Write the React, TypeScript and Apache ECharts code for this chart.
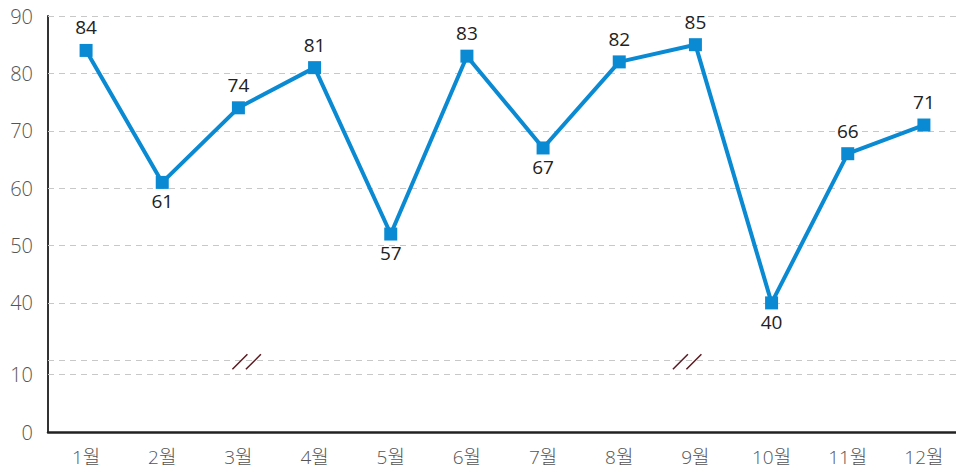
import React, { useEffect, useRef } from "react";
import * as echarts from "echarts";

const months = ["1월", "2월", "3월", "4월", "5월", "6월", "7월", "8월", "9월", "10월", "11월", "12월"];
// plotted positions
const values = [84, 61, 74, 81, 52, 83, 67, 82, 85, 40, 66, 71];
// value labels as printed in the picture
const valueLabels = ["84", "61", "74", "81", "57", "83", "67", "82", "85", "40", "66", "71"];
const labelSides = ["top", "bottom", "top", "top", "bottom", "top", "bottom", "top", "top", "bottom", "top", "top"];
const yTickLabels = [0, 10, 40, 50, 60, 70, 80, 90];
const gridValues = [10, 30, 40, 50, 60, 70, 80, 90];
// axis break: values between 10 and 30 are collapsed into a small gap
const breakLow = 10;
const breakHigh = 30;
const breakGap = 2.5;
const breakMarks = [
  [2, 8.5],
  [8, -8],
];

const shift = breakHigh - breakLow - breakGap;
const toAxis = (v: number) => (v >= breakHigh ? v - shift : v);

const FONT = "'Open Sans', 'Noto Sans CJK KR', sans-serif";

export default function App() {
  const ref = useRef<HTMLDivElement>(null);
  useEffect(() => {
    if (!ref.current) return;
    const chart = echarts.init(ref.current, null, { renderer: "svg" });
    const axisMax = toAxis(90);
    chart.setOption({
      animation: false,
      grid: { left: 48, right: 0, top: 16, bottom: 40, containLabel: false },
      xAxis: {
        type: "category",
        data: months,
        boundaryGap: true,
        axisLine: { show: true, lineStyle: { color: "#222", width: 2.5 } },
        axisTick: { show: false },
        axisLabel: { color: "#555", fontSize: 19, fontFamily: FONT, fontWeight: 300, margin: 15 },
        splitLine: { show: false },
      },
      yAxis: {
        type: "value",
        min: 0,
        max: axisMax,
        interval: 2.5,
        axisLine: { show: true, lineStyle: { color: "#333", width: 2 } },
        axisTick: { show: false },
        splitLine: { show: false },
        axisLabel: {
          color: "#555",
          fontSize: 20,
          fontFamily: FONT,
          fontWeight: 300,
          margin: 15,
          formatter: (val: number) => {
            const found = yTickLabels.find((t) => Math.abs(toAxis(t) - val) < 1e-6);
            return found === undefined ? "" : String(found);
          },
        },
      },
      series: [
        {
          type: "line",
          data: [],
          silent: true,
          z: 1,
          markLine: {
            silent: true,
            z: 1,
            symbol: ["none", "none"],
            label: { show: false },
            lineStyle: { type: [6, 5], color: "#c8c8c8", width: 1 },
            data: gridValues.map((v) => ({ yAxis: toAxis(v) })),
          },
        },
        {
          type: "line",
          z: 3,
          data: values.map((v, i) => ({
            value: toAxis(v),
            label: { position: labelSides[i], distance: labelSides[i] === "top" ? 7 : 3 },
          })),
          symbol: "rect",
          symbolSize: 13,
          lineStyle: { color: "#0a8ad2", width: 4 },
          itemStyle: { color: "#0a8ad2" },
          label: {
            show: true,
            color: "#222",
            fontSize: 19,
            fontFamily: FONT,
            formatter: (p: any) => valueLabels[p.dataIndex],
          },
        },
        {
          type: "custom",
          z: 4,
          silent: true,
          data: breakMarks.map(([idx, dx]) => [idx, toAxis(breakHigh), dx]),
          renderItem: (params: any, api: any) => {
            const p = api.coord([api.value(0), api.value(1)]);
            const cx = p[0] + api.value(2);
            const cy = p[1] + 1.5;
            const h = 7.5;
            const style = { stroke: "#5a1a20", lineWidth: 1.5 };
            return {
              type: "group",
              children: [
                { type: "line", shape: { x1: cx - 7 - h, y1: cy + h, x2: cx - 7 + h, y2: cy - h }, style },
                { type: "line", shape: { x1: cx + 6.5 - h, y1: cy + h, x2: cx + 6.5 + h, y2: cy - h }, style },
              ],
            };
          },
        },
      ],
    });
    return () => chart.dispose();
  }, []);
  return (
    <div
      style={{ position: "fixed", left: 0, top: 0, width: 956, height: 472, overflow: "hidden", background: "#fff" }}
    >
      <div ref={ref} style={{ width: 962, height: 472 }} />
    </div>
  );
}
